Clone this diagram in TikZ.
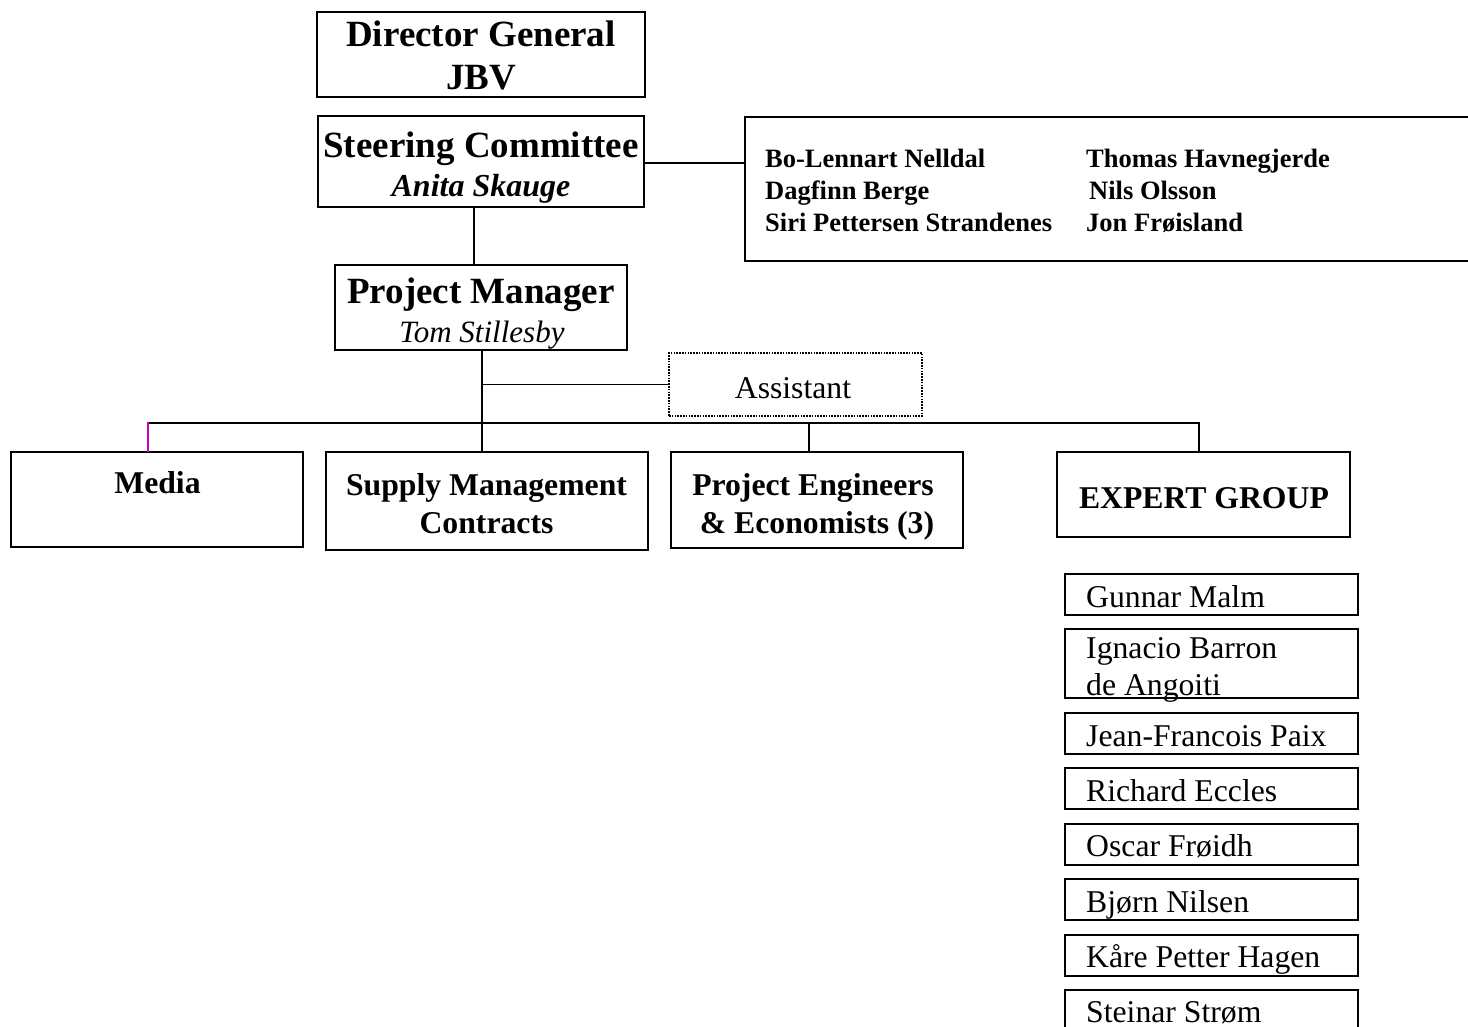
\documentclass[tikz,border=0pt]{standalone}
\usepackage{fontspec}
\setmainfont{Liberation Serif}
\usepackage{graphicx}
\begin{document}
\begin{tikzpicture}[x=1pt,y=-1pt,
  box/.style={draw, line width=2pt, rectangle, inner sep=0pt, outer sep=0pt},
  openbox/.style={rectangle, inner sep=0pt, outer sep=0pt},
  dotbox/.style={draw, line width=1.6pt, dash pattern=on 1.6pt off 1.2pt, rectangle, inner sep=0pt, outer sep=0pt},
  conn/.style={line width=1.9pt},
  txt/.style={inner sep=0pt, anchor=base},
  txtw/.style={inner sep=0pt, anchor=base west},
  big/.style={font=\fontsize{37}{44}\selectfont\bfseries},
  bigit/.style={font=\fontsize{32}{38}\selectfont\bfseries\itshape},
  regit/.style={font=\fontsize{31}{37}\selectfont\itshape},
  bold/.style={font=\fontsize{31.7}{38}\selectfont\bfseries},
  reg/.style={font=\fontsize{31.7}{38}\selectfont},
  small/.style={font=\fontsize{26.5}{32}\selectfont\bfseries}]
\useasboundingbox (0,0) rectangle (1468,1027);
\clip (0,0) rectangle (1468,1027);
\definecolor{mag}{RGB}{204,0,204}

% boxes
\node[box, minimum width=328pt, minimum height=85pt] (dg) at (481,54.5) {};
\node[box, minimum width=326pt, minimum height=91pt] (sc) at (481,161.5) {};
\node[openbox, minimum width=745pt, minimum height=144pt] (mem) at (1117.5,189) {};
\draw[line width=2pt] (mem.north east) -- (mem.north west) -- (mem.south west) -- (mem.south east);
\node[box, minimum width=292pt, minimum height=85pt] (pm) at (481,307.5) {};
\node[dotbox, minimum width=253pt, minimum height=63pt] (asst) at (795.5,384.5) {};
\node[box, minimum width=292pt, minimum height=94.5pt] (media) at (157,499.25) {};
\node[box, minimum width=322pt, minimum height=98pt] (supply) at (487,501) {};
\node[box, minimum width=292pt, minimum height=96pt] (pe) at (817,500) {};
\node[box, minimum width=293pt, minimum height=85pt] (expert) at (1203.5,494.5) {};
\node[box, minimum width=293pt, minimum height=41pt] (e1) at (1211.5,594) {};
\node[box, minimum width=293pt, minimum height=69pt] (e2) at (1211.5,663.5) {};
\node[box, minimum width=293pt, minimum height=41pt] (e3) at (1211.5,733.5) {};
\node[box, minimum width=293pt, minimum height=41pt] (e4) at (1211.5,788.5) {};
\node[box, minimum width=293pt, minimum height=41pt] (e5) at (1211.5,844) {};
\node[box, minimum width=293pt, minimum height=41pt] (e6) at (1211.5,899.5) {};
\node[box, minimum width=293pt, minimum height=41pt] (e7) at (1211.5,955) {};
\node[box, minimum width=293pt, minimum height=50pt] (e8) at (1211.5,1015) {};

% texts
\node[txt, big] (tdg1) at (481,46.5) {Director General};
\node[txt, big] (tdg2) at (481,90) {JBV};
\node[txt, big] (tsc1) at (481,158) {Steering Committee};
\node[txt, bigit] (tsc2) at (481,196.5) {Anita Skauge};
\node[txt, big] (tpm1) at (481,303) {Project Manager};
\node[txt, regit] (tpm2) at (482,342) {Tom Stillesby};
\node[txt, reg] (tas) at (793,398) {Assistant};
\node[txt, bold] (tme) at (157.5,493) {Media};
\node[txt, bold] (tsu1) at (486.5,495) {Supply Management};
\node[txt, bold] (tsu2) at (486.5,533) {Contracts};
\node[txt, bold] (tpe1) at (813,495) {Project Engineers};
\node[txt, bold] (tpe2) at (817,533) {\& Economists (3)};
\node[txt, bold] (tex) at (1204,508) {EXPERT GROUP};

\node[txtw, small] (m1) at (765,167.5) {Bo-Lennart Nelldal};
\node[txtw, small] (m2) at (765,199.5) {Dagfinn Berge};
\node[txtw, small] (m3) at (765,231.5) {Siri Pettersen Strandenes};
\node[txtw, small] (m4) at (1086,167.5) {Thomas Havnegjerde};
\node[txtw, small] (m5) at (1089,199.5) {Nils Olsson};
\node[txtw, small] (m6) at (1086,231.5) {Jon Frøisland};

\node[txtw, reg] (n1) at (1086,607.5) {Gunnar Malm};
\node[txtw, reg] (n2a) at (1086,658.5) {Ignacio Barron};
\node[txtw, reg] (n2b) at (1086,695.5) {de Angoiti};
\node[txtw, reg] (n3) at (1086,746) {Jean-Francois Paix};
\node[txtw, reg] (n4) at (1086,801) {Richard Eccles};
\node[txtw, reg] (n5) at (1086,856) {Oscar Frøidh};
\node[txtw, reg] (n6) at (1086,912) {Bjørn Nilsen};
\node[txtw, reg] (n7) at (1086,967.5) {Kåre Petter Hagen};
\node[txtw, reg] (n8) at (1086,1022.5) {Steinar Strøm};

% connectors
\coordinate (bus) at (0,423);
\draw[conn] ([yshift=-1.5pt]sc.east) -- ([yshift=-1.5pt]sc.east -| mem.west);
\draw[conn] ([xshift=-7pt]sc.south) -- ([xshift=-7pt]pm.north);
\coordinate (pmd) at ([xshift=1pt]pm.south);
\draw[conn] (pmd) -- (pmd |- supply.north);
\draw[conn] (asst.west) -- (asst.west -| pmd);
\draw[line width=2.2pt] ([xshift=-9.5pt]media.north |- bus) -- ([xshift=-4.5pt]expert.north |- bus) -- ([xshift=-4.5pt]expert.north);
\draw[conn] ([xshift=-8pt]pe.north) -- ([xshift=-8pt]pe.north |- bus);
\draw[mag, line width=1.8pt] ([xshift=-9pt]media.north) -- ([xshift=-9pt,yshift=1pt]media.north |- bus);
\end{tikzpicture}
\end{document}
